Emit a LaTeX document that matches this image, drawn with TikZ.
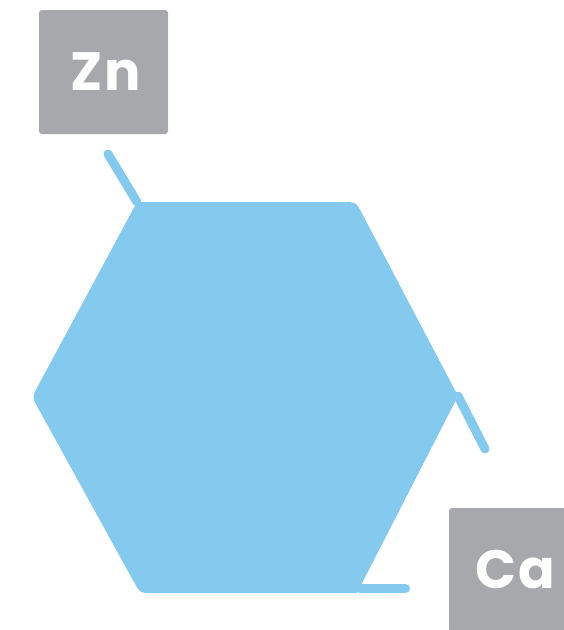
\documentclass[tikz,border=0pt]{standalone}
\usepackage{fontspec}
\setmainfont{Poppins}
\newfontfamily\elemfont[LetterSpace=4]{Poppins}
\usetikzlibrary{calc}
\definecolor{hexblue}{HTML}{84C9EE}
\definecolor{boxgray}{HTML}{A7A8AC}
\begin{document}
\begin{tikzpicture}[x=1pt,y=-1pt,
  bond/.style={draw=hexblue,line width=9pt,line cap=round},
  elembox/.style={fill=boxgray,rounded corners=3pt,minimum width=129pt,minimum height=124pt,
    inner sep=0pt,text=white,font=\elemfont\fontsize{54}{54}\selectfont\bfseries}]
\useasboundingbox (0,0) rectangle (563,630);
% hexagon corners
\coordinate (TL) at (137,202);
\coordinate (TR) at (356,202);
\coordinate (R) at (458,396);
\coordinate (BR) at (357,593);
\coordinate (BL) at (140,593);
\coordinate (L) at (32,397);
% bond ends
\coordinate (znend) at (108,154);
\coordinate (caend) at (485,449);
\coordinate (brstart) at (360,588.5);
\coordinate (brend) at (405.5,588.5);
% bonds
\draw[bond] (znend) -- (TL);
\draw[bond] (R) -- (caend);
\draw[bond] (brstart) -- (brend);
% hexagon body
\fill[hexblue] (TL) -- ($(TR)!13pt!(TL)$) .. controls (TR) .. ($(TR)!13pt!(R)$)
  -- (R) -- (BR) -- ($(BL)!13pt!(BR)$) .. controls (BL) .. ($(BL)!13pt!(L)$)
  -- ($(L)!13pt!(BL)$) .. controls (L) .. ($(L)!13pt!(TL)$) -- cycle;
% element boxes
\node[elembox] (zn) at (103.5,72) {\hspace*{4pt}Zn};
\node[elembox] (ca) at (513.5,570) {\hspace*{4pt}Ca};
\end{tikzpicture}
\end{document}
